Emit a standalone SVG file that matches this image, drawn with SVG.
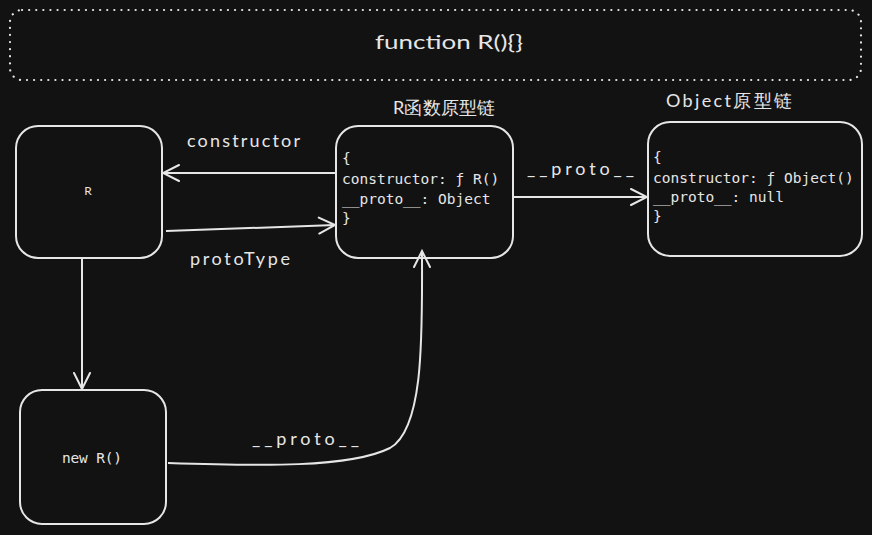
<svg xmlns="http://www.w3.org/2000/svg" width="872" height="535" viewBox="0 0 872 535">
<defs>
<marker id="arr" viewBox="0 0 20 20" refX="18" refY="10" markerWidth="20" markerHeight="20" markerUnits="userSpaceOnUse" orient="auto">
<path d="M2,2 L18,10 L2,18" fill="none" stroke="#e6e6e6" stroke-width="2" stroke-linecap="round"/>
</marker>
<style>
.box{fill:#121212;stroke:#e6e6e6;stroke-width:2}
.dash{fill:none;stroke:#e6e6e6;stroke-width:2.2;stroke-dasharray:0.1 7;stroke-linecap:round}
.hand{font-family:"Lato","Liberation Sans",sans-serif;fill:#e6e6e6}
.mono{font-family:"DejaVu Sans Mono","Liberation Mono",monospace;fill:#e6e6e6;font-size:14.5px}
.lbl{font-family:"Lato","Liberation Sans",sans-serif;fill:#e6e6e6;font-size:18px}
.edge{fill:none;stroke:#e6e6e6;stroke-width:2;marker-end:url(#arr)}
</style>
</defs>
<rect width="872" height="535" fill="#121212"/>
<g id="func">
<rect class="dash" x="10" y="10" width="851" height="70" rx="12"/>
<text class="hand" x="375" y="49" font-size="19" textLength="148" lengthAdjust="spacingAndGlyphs">function R(){}</text>
</g>
<g id="R">
<rect class="box" x="16" y="126" width="146" height="132" rx="22"/>
<text class="hand" x="88" y="195" font-size="12" text-anchor="middle">R</text>
</g>
<g id="Rproto">
<text class="lbl" x="393" y="114" textLength="102" font-family="Lato,'Noto Sans CJK SC',sans-serif">R函数原型链</text>
<rect class="box" x="336" y="126" width="177" height="132" rx="22"/>
<text class="mono" x="342" y="163">{</text>
<text class="mono" x="342" y="184">constructor: ƒ R()</text>
<text class="mono" x="342" y="204">__proto__: Object</text>
<text class="mono" x="342" y="223">}</text>
</g>
<g id="Objproto">
<text class="lbl" x="666" y="107" textLength="126" font-family="Lato,'Noto Sans CJK SC',sans-serif">Object原型链</text>
<rect class="box" x="648" y="122" width="214" height="134" rx="22"/>
<text class="mono" x="653" y="162">{</text>
<text class="mono" x="653" y="183">constructor: ƒ Object()</text>
<text class="mono" x="653" y="202">__proto__: null</text>
<text class="mono" x="653" y="221">}</text>
</g>
<g id="newR">
<rect class="box" x="20" y="390" width="146" height="134" rx="22"/>
<text class="mono" x="62" y="463" font-size="14.5" textLength="60">new R()</text>
</g>
<g id="connectors">
<path class="edge" d="M336,173 L163,173"/>
<path class="edge" d="M166,231 L335,225"/>
<path class="edge" d="M82,259 L82,389"/>
<path class="edge" d="M514,197 L647,197"/>
<path class="edge" d="M168,463 C260,466 350,468 390,448 C425,428 422,330 422,251"/>
<text class="lbl" x="187" y="147" textLength="113">constructor</text>
<text class="lbl" x="190" y="265" textLength="100">protoType</text>
<text class="lbl" x="527" y="175" textLength="107">__proto__</text>
<text class="lbl" x="252" y="445" textLength="107">__proto__</text>
</g>
</svg>
